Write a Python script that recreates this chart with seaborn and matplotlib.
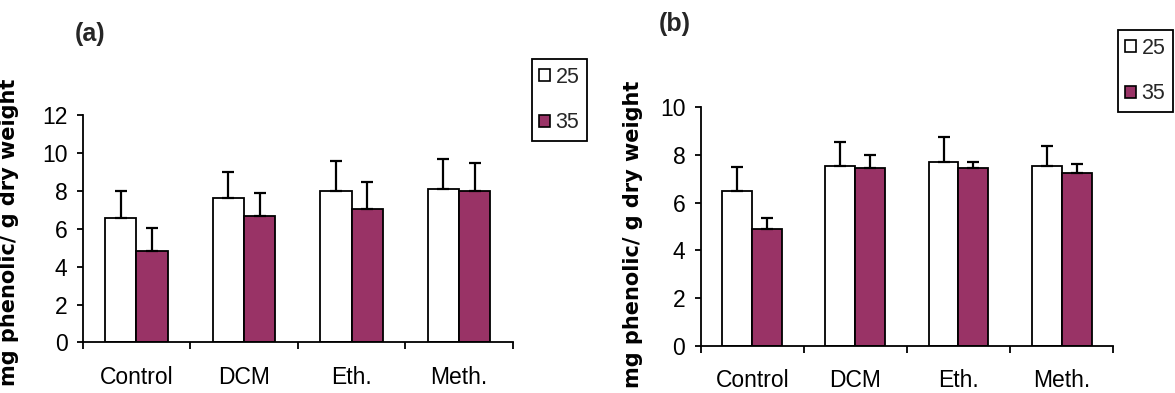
import numpy as np
import pandas as pd
import seaborn as sns
import matplotlib.pyplot as plt
from matplotlib.patches import Patch

extracts = ["Control", "DCM", "Eth.", "Meth."]
temps = ["25", "35"]

# panel (a)
a_25 = [6.55, 7.62, 8.00, 8.12]
a_35 = [4.85, 6.65, 7.02, 8.00]
a_25_err = [1.45, 1.35, 1.57, 1.57]
a_35_err = [1.20, 1.22, 1.47, 1.47]

# panel (b)
b_25 = [6.50, 7.52, 7.72, 7.52]
b_35 = [4.90, 7.44, 7.44, 7.26]
b_25_err = [1.01, 1.04, 1.02, 0.86]
b_35_err = [0.47, 0.56, 0.28, 0.36]

ylabel = "mg phenolic/ g dry weight"
colors = {"25": "white", "35": "#993366"}

sns.set_theme(style="ticks")
plt.rcParams['font.family'] = ['Liberation Sans', 'DejaVu Sans']
plt.rcParams['axes.linewidth'] = 1.3


def long_df(v25, v35):
    rows = []
    for i, ex in enumerate(extracts):
        rows.append({"extract": ex, "temp": "25", "value": v25[i]})
        rows.append({"extract": ex, "temp": "35", "value": v35[i]})
    return pd.DataFrame(rows)


def draw_panel(ax, v25, v35, e25, e35, ymax, label_xy):
    df = long_df(v25, v35)
    sns.barplot(data=df, x="extract", y="value", hue="temp", hue_order=temps,
                order=extracts, palette=colors, saturation=1, width=0.58,
                edgecolor="black", linewidth=1.3, errorbar=None, legend=False,
                ax=ax)
    # upward-only error bars on top of each bar
    for cont, errs in zip(ax.containers, [e25, e35]):
        xs = [p.get_x() + p.get_width() / 2 for p in cont]
        ys = [p.get_height() for p in cont]
        ax.errorbar(xs, ys, yerr=[np.zeros(len(errs)), errs], fmt="none",
                    ecolor="black", elinewidth=1.6, capsize=4.5, capthick=1.6,
                    zorder=3)
    ax.set_xlim(-0.5, 3.5)
    ax.set_ylim(0, ymax)
    ax.set_yticks(np.arange(0, ymax + 1, 2))
    ax.set_xticks(range(len(extracts)))
    ax.set_xticklabels(extracts)
    ax.set_xticks(np.arange(-0.5, 4, 1), minor=True)
    ax.tick_params(axis="x", which="major", length=0, pad=17, labelsize=16.5,
                   colors="black")
    ax.tick_params(axis="x", which="minor", length=5, width=1.3, direction="out",
                   color="black")
    ax.tick_params(axis="y", length=4, width=1.3, pad=7, labelsize=16.5,
                   colors="black")
    ax.set_xlabel("")
    ax.set_ylabel(ylabel, family="DejaVu Sans", fontweight="bold", fontsize=15,
                  color="black")
    ax.yaxis.set_label_coords(*label_xy)
    sns.despine(ax=ax)
    for s in ["left", "bottom"]:
        ax.spines[s].set_color("black")


fig = plt.figure(figsize=(11.75, 3.93), dpi=100)
ax_a = fig.add_axes([0.0704, 0.1285, 0.3660, 0.5789])
ax_b = fig.add_axes([0.5963, 0.1204, 0.3511, 0.6066])

draw_panel(ax_a, a_25, a_35, a_25_err, a_35_err, 12, (-0.149, 0.486))
draw_panel(ax_b, b_25, b_35, b_25_err, b_35_err, 10, (-0.140, 0.469))

fig.text(0.077, 0.9135, "(a)", ha="center", va="center", fontsize=18,
         fontweight="bold")
fig.text(0.574, 0.939, "(b)", ha="center", va="center", fontsize=18,
         fontweight="bold")

handles = [Patch(facecolor=colors[t], edgecolor="black", linewidth=1.2, label=t)
           for t in temps]
# anchored by the upper right corner of each legend box
for anchor in [(587 / 1175, 1 - 59 / 393), (1173 / 1175, 1 - 30 / 393)]:
    leg = fig.legend(handles=handles, loc="upper right", bbox_to_anchor=anchor,
                     borderaxespad=0, fontsize=15.5, frameon=True, fancybox=False,
                     handlelength=0.5, handleheight=0.5, handletextpad=0.25,
                     borderpad=0.35, labelspacing=1.15)
    leg.get_frame().set_edgecolor("black")
    leg.get_frame().set_linewidth(1.3)
    leg.get_frame().set_alpha(1)

fig.savefig("out.png", dpi=100, facecolor="white")
